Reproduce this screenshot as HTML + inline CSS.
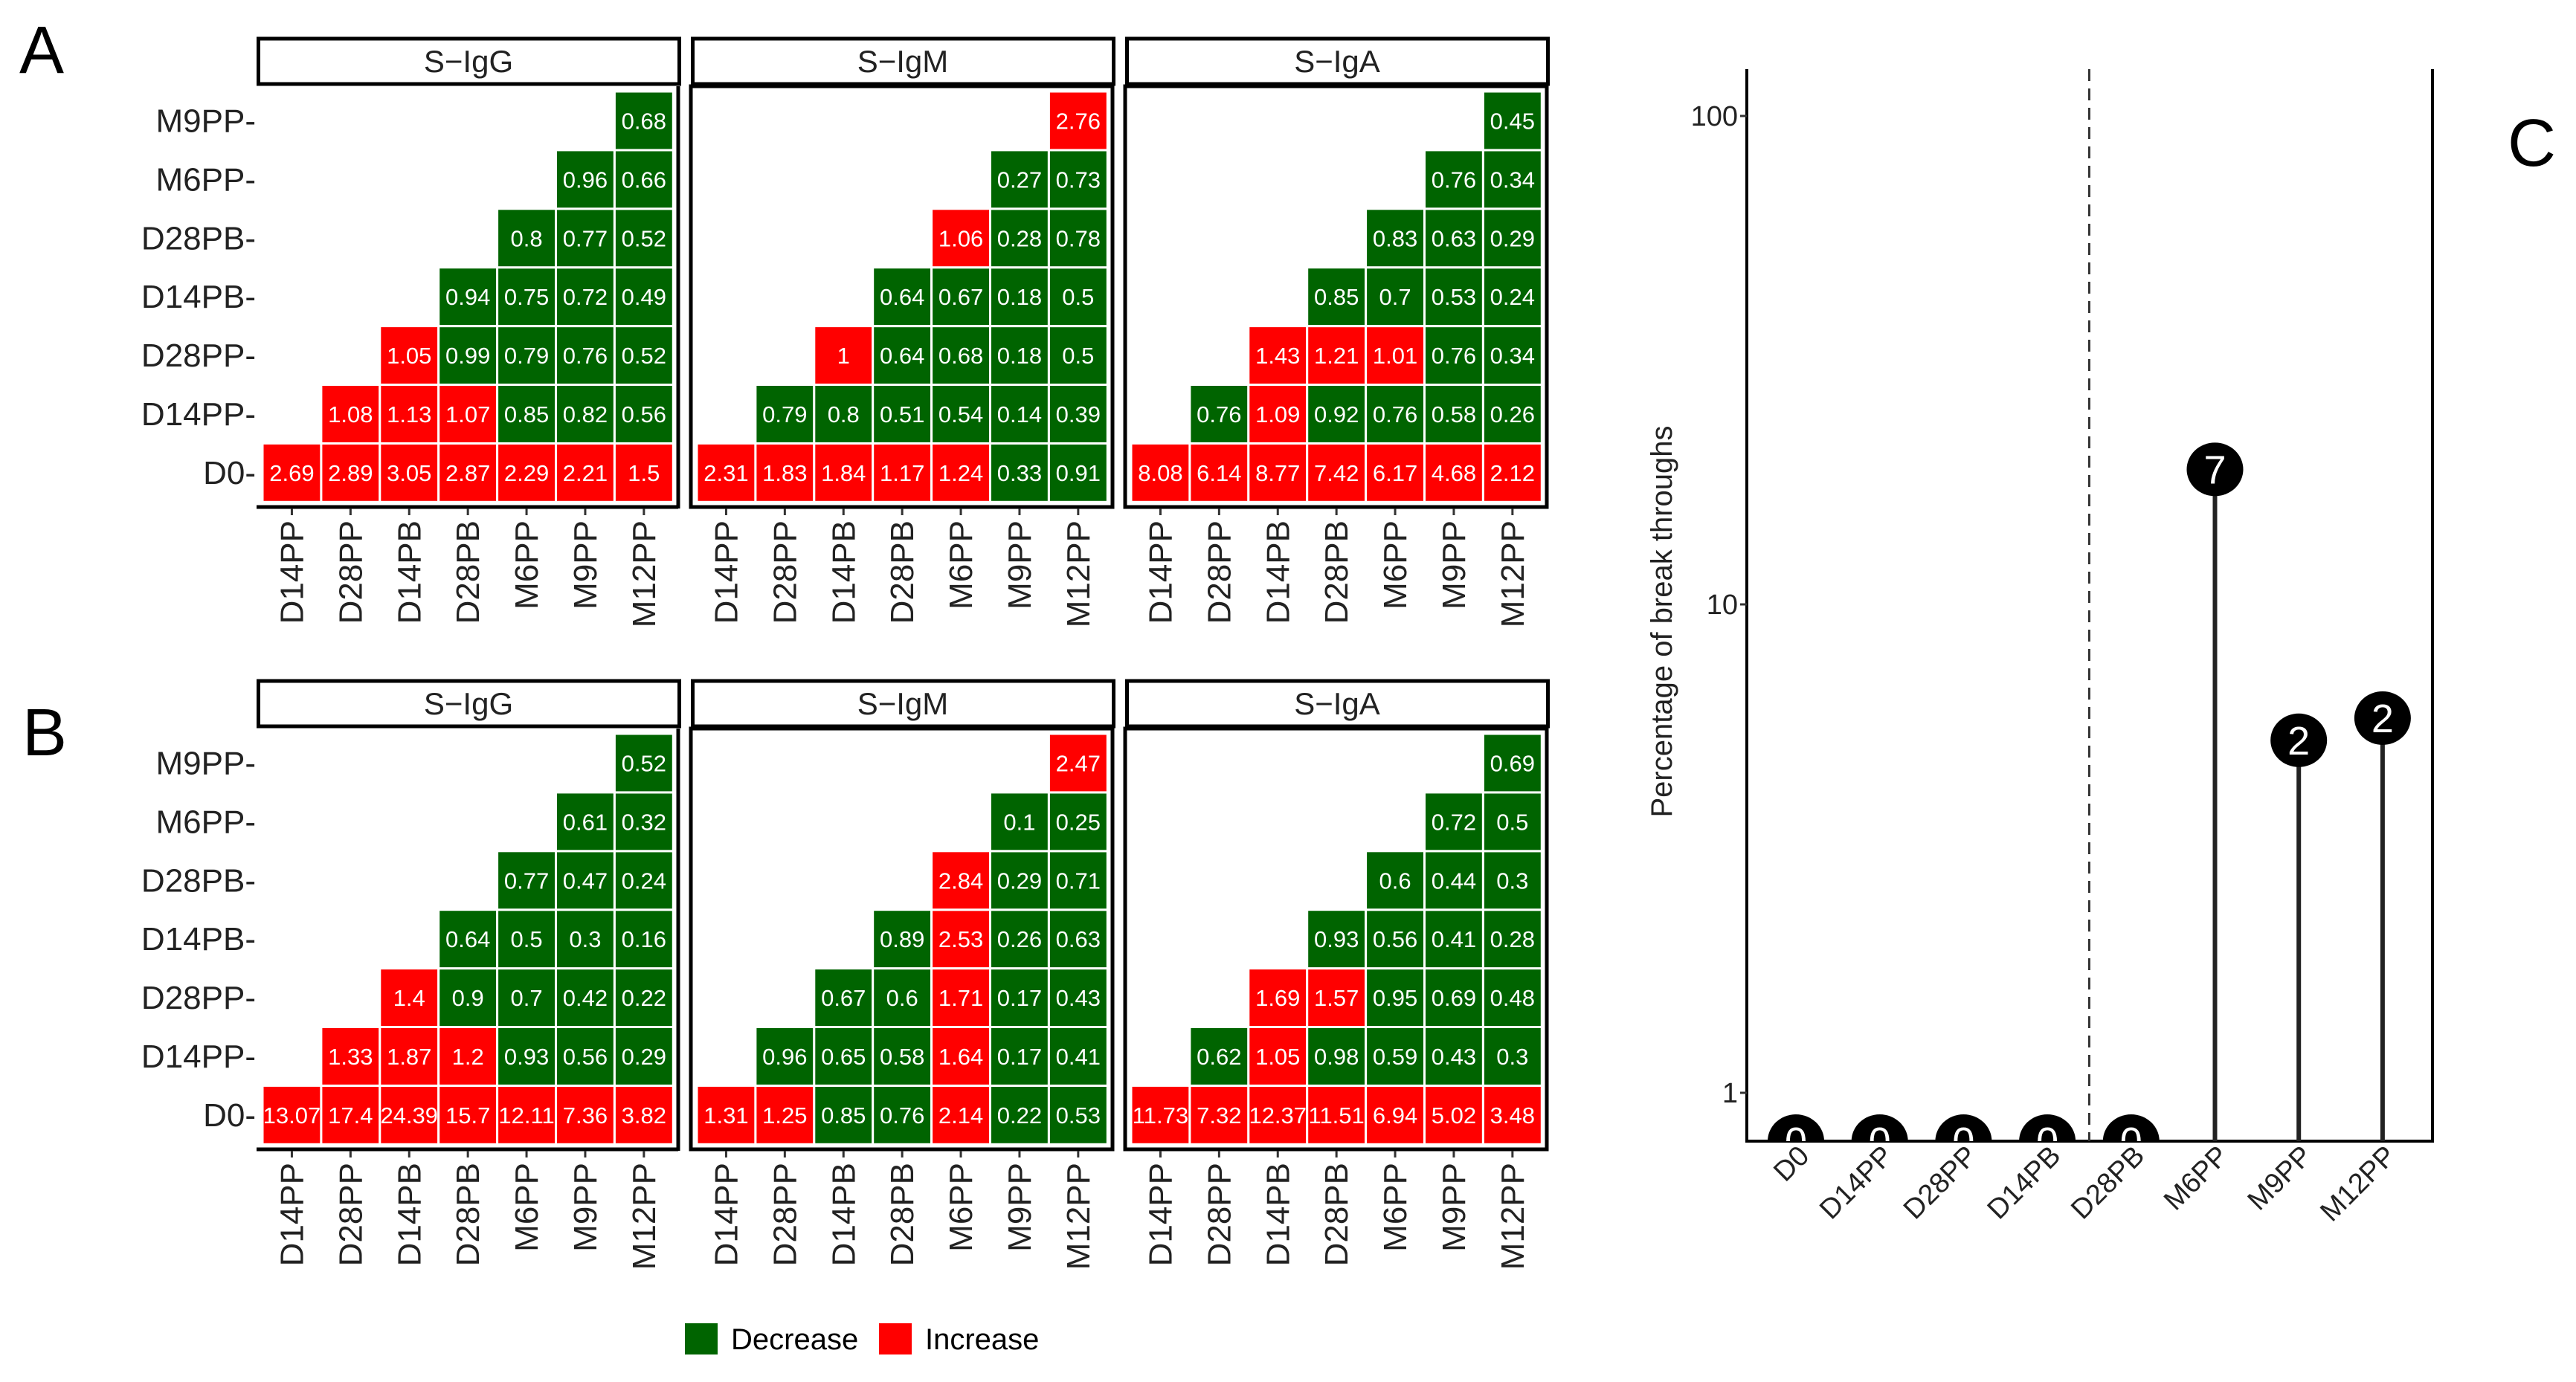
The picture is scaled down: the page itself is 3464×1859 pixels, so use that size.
<!DOCTYPE html>
<html><head><meta charset="utf-8"><style>
html,body{margin:0;padding:0;background:#fff}
svg{display:block;font-family:"Liberation Sans",Arial,sans-serif}
</style></head><body>
<svg id="fig" width="3464" height="1859" viewBox="0 0 3464 1859" xmlns="http://www.w3.org/2000/svg">
<rect width="3464" height="1859" fill="#fff"/>
<text x="26" y="98" font-size="90">A</text>
<text x="30" y="1016" font-size="90">B</text>
<text x="3372" y="223" font-size="90">C</text>
<g id="heat"></g>
<g id="legend">
<rect x="921" y="1780" width="44" height="42" fill="#006400"/>
<text x="983" y="1815" font-size="40">Decrease</text>
<rect x="1182" y="1780" width="44" height="42" fill="#ff0000"/>
<text x="1244" y="1815" font-size="40">Increase</text>
</g>
<g id="lolli"></g>
</svg>
<script>
const rowLabels = ["D0","D14PP","D28PP","D14PB","D28PB","M6PP","M9PP"];
const colLabels = ["D14PP","D28PP","D14PB","D28PB","M6PP","M9PP","M12PP"];
const panelTitles = ["S\u2212IgG","S\u2212IgM","S\u2212IgA"];
const A_IgG = [[2.69,2.89,3.05,2.87,2.29,2.21,1.5],[1.08,1.13,1.07,0.85,0.82,0.56],[1.05,0.99,0.79,0.76,0.52],[0.94,0.75,0.72,0.49],[0.8,0.77,0.52],[0.96,0.66],[0.68]];
const A_IgM = [[2.31,1.83,1.84,1.17,1.24,0.33,0.91],[0.79,0.8,0.51,0.54,0.14,0.39],[1,0.64,0.68,0.18,0.5],[0.64,0.67,0.18,0.5],[1.06,0.28,0.78],[0.27,0.73],[2.76]];
const A_IgA = [[8.08,6.14,8.77,7.42,6.17,4.68,2.12],[0.76,1.09,0.92,0.76,0.58,0.26],[1.43,1.21,1.01,0.76,0.34],[0.85,0.7,0.53,0.24],[0.83,0.63,0.29],[0.76,0.34],[0.45]];
const B_IgG = [[13.07,17.4,24.39,15.7,12.11,7.36,3.82],[1.33,1.87,1.2,0.93,0.56,0.29],[1.4,0.9,0.7,0.42,0.22],[0.64,0.5,0.3,0.16],[0.77,0.47,0.24],[0.61,0.32],[0.52]];
const B_IgM = [[1.31,1.25,0.85,0.76,2.14,0.22,0.53],[0.96,0.65,0.58,1.64,0.17,0.41],[0.67,0.6,1.71,0.17,0.43],[0.89,2.53,0.26,0.63],[2.84,0.29,0.71],[0.1,0.25],[2.47]];
const B_IgA = [[11.73,7.32,12.37,11.51,6.94,5.02,3.48],[0.62,1.05,0.98,0.59,0.43,0.3],[1.69,1.57,0.95,0.69,0.48],[0.93,0.56,0.41,0.28],[0.6,0.44,0.3],[0.72,0.5],[0.69]];

const cCats = ["D0","D14PP","D28PP","D14PB","D28PB","M6PP","M9PP","M12PP"];
const cValues = [0,0,0,0,0,18.9,5.27,5.85];
const cCounts = ["0","0","0","0","0","7","2","2"];
const cTicks = [1,10,100];

const NS="http://www.w3.org/2000/svg";
function mk(tag, attrs, parent, txt){const e=document.createElementNS(NS,tag);for(const k in attrs)e.setAttribute(k,attrs[k]);if(txt!==undefined)e.textContent=txt;parent.appendChild(e);return e;}

const heat=document.getElementById('heat');
const figs=[{off:0,tag:'a',data:[A_IgG,A_IgM,A_IgA]},{off:864,tag:'b',data:[B_IgG,B_IgM,B_IgA]}];
const CELL=78.9;
function cx(p,col){return 353+584*p+col*CELL;}
function cy(off,row){return 123+off+(6-row)*CELL;}
figs.forEach(f=>{
  const off=f.off;
  // row labels
  rowLabels.forEach((r,i)=>{
    const t=mk('text',{x:344,y:cy(off,i)+CELL/2+15,'font-size':44,'text-anchor':'end',fill:'#222'},heat,r+'-');
    
    
  });
  f.data.forEach((mat,p)=>{
    const x0=345+584*p;
    const g=mk('g',{},heat);
    
    
    const s=mk('rect',{x:x0+2.5,y:52+off,width:566,height:61,fill:'#fff',stroke:'#000','stroke-width':5},g);
    
    
    const st=mk('text',{x:x0+285,y:97+off,'font-size':42,'text-anchor':'middle',fill:'#222'},g,panelTitles[p]);
    
    
    mat.forEach((rowVals,r)=>{
      rowVals.forEach((v,k)=>{
        const col=r+k;
        const x=cx(p,col), y=cy(off,r);
        const c=mk('rect',{x:x,y:y,width:CELL,height:CELL,fill:v>=1?'#ff0000':'#006400',stroke:'#fff','stroke-width':3},g);
        
        
        const t=mk('text',{x:x+CELL/2,y:y+CELL/2+11,'font-size':31,'text-anchor':'middle',fill:'#fff',transform:'',textLength:'',},g,String(v));
        t.removeAttribute('transform');t.removeAttribute('textLength');
        
        
      });
    });
    // borders
    const bc='#000';
    if(p>0){
      const b=mk('rect',{x:x0,y:116+off,width:567,height:566,fill:'none',stroke:bc,'stroke-width':5},g);
      
      
    } else {
      const b1=mk('line',{x1:x0+567,y1:116+off,x2:x0+567,y2:684+off,stroke:bc,'stroke-width':5},g);
      
      
      const b2=mk('line',{x1:x0,y1:682+off,x2:x0+567,y2:682+off,stroke:bc,'stroke-width':5},g);
      
      
    }
    colLabels.forEach((cl,k)=>{
      const xm=cx(p,k)+CELL/2;
      const tk=mk('line',{x1:xm,y1:684+off,x2:xm,y2:693+off,stroke:'#333','stroke-width':3},g);
      
      
      const t=mk('text',{x:0,y:0,'font-size':44,'text-anchor':'end',fill:'#222',transform:'translate('+(xm+15)+','+(700+off)+') rotate(-90)'},g,cl);
      
      
    });
  });
});

// Panel C lollipop
const L=document.getElementById('lolli');
const pl=2349,pr=3271,pt=93,pb=1535;
function yS(v){const vv=Math.max(v,0.8);return 156+(2-Math.log10(vv))*657;}
function xS(i){return 2415+i*112.7;}
const defs=mk('defs',{},L);
const cp=mk('clipPath',{id:'cclip'},defs);
mk('rect',{x:pl,y:pt,width:pr-pl,height:pb-pt},cp);
const ax=mk('path',{d:`M${pl},${pt} V${pb} H${pr} V${pt}`,fill:'none',stroke:'#000','stroke-width':4},L);


const dash=mk('line',{x1:(xS(3)+xS(4))/2,y1:pt,x2:(xS(3)+xS(4))/2,y2:pb,stroke:'#333','stroke-width':3,'stroke-dasharray':'16,10'},L);


cTicks.forEach(t=>{
  const y=yS(t);
  const tl=mk('line',{x1:pl-9,y1:y,x2:pl,y2:y,stroke:'#333','stroke-width':3},L);
  
  
  const tt=mk('text',{x:pl-12,y:y+13,'font-size':38,'text-anchor':'end',fill:'#222'},L,String(t));
  
  
});
const yt=mk('text',{x:0,y:0,'font-size':40,'text-anchor':'middle',fill:'#222',transform:'translate(2248,836) rotate(-90)'},L,'Percentage of break throughs');


const gc=mk('g',{'clip-path':'url(#cclip)'},L);
cCats.forEach((c,i)=>{
  const x=xS(i), y=yS(cValues[i]);
  const ln=mk('line',{x1:x,y1:pb,x2:x,y2:y,stroke:'#222','stroke-width':6},gc);
  
  
  const ci=mk('ellipse',{cx:x,cy:cValues[i]>0?y:pb,rx:38,ry:36,fill:'#000'},gc);
  
  
  const lt=mk('text',{x:x,y:(cValues[i]>0?y:pb)+19,'font-size':54,'text-anchor':'middle',fill:'#fff'},gc,cCounts[i]);
  
  
  const xt=mk('text',{x:0,y:0,'font-size':38,'text-anchor':'end',fill:'#222',transform:'translate('+(x+20)+','+(pb+22)+') rotate(-45)'},L,c);
  
  
});
</script>
</body></html>
